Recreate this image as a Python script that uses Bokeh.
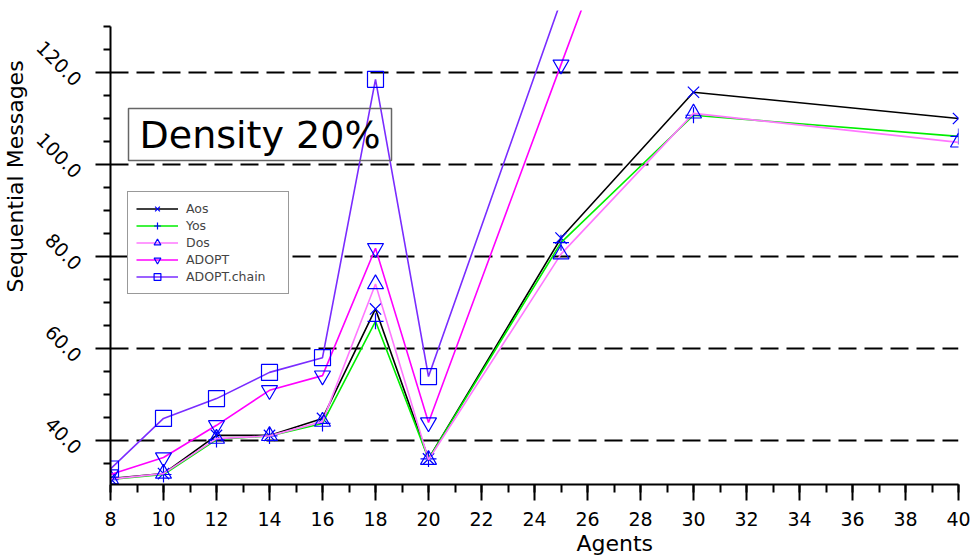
import math
from bokeh.plotting import figure
from bokeh.models import (FixedTicker, PrintfTickFormatter, Label, Legend, LegendItem,
                          Range1d, LinearAxis, Title, CustomLabelingPolicy)
from bokeh.embed import file_html
from bokeh.resources import INLINE

# ---- data ----
agents = [8, 10, 12, 14, 16, 18, 20, 25, 30, 40]
aos = [31.7, 32.8, 41.1, 41.1, 44.8, 68.6, 36.0, 84.0, 115.7, 110.0]
yos = [31.5, 32.6, 40.2, 41.0, 43.7, 65.9, 36.0, 83.0, 110.7, 106.1]
dos = [31.6, 32.8, 40.4, 41.0, 44.1, 74.0, 35.8, 80.5, 111.1, 104.8]
adopt = [32.6, 36.3, 43.3, 50.9, 54.1, 81.8, 43.9, 121.7, 199.0, 255.0]
adopt_chain = [33.8, 44.8, 49.1, 54.8, 58.0, 118.5, 53.9, 135.6, 210.0, 270.0]

series_names = ["Aos", "Yos", "Dos", "ADOPT", "ADOPT.chain"]
series_values = [aos, yos, dos, adopt, adopt_chain]
line_colors = ["#000000", "#00ee00", "#ff77ff", "#ff00ff", "#7a2cff"]
markers = ["x", "cross", "triangle", "inverted_triangle", "square"]

y_major = [40, 60, 80, 100, 120]
y_minor = [35, 45, 50, 55, 65, 70, 75, 85, 90, 95, 105, 110, 115, 125, 130]
x_major = list(range(8, 41, 2))
x_minor = list(range(8, 41, 1))

FONT = "DejaVu Sans"
Y0, Y1 = 30.43, 133.47
LABEL_SHIFT = 2.2  # tick labels sit centred on their gridline

p = figure(width=976, height=559, output_backend="svg", toolbar_location=None,
           x_range=Range1d(8, 40), y_range=Range1d(Y0, Y1),
           min_border_left=110, min_border_right=18, min_border_top=10,
           min_border_bottom=75)
p.outline_line_color = None
p.background_fill_color = "white"
p.border_fill_color = "white"
p.extra_y_ranges = {"ylab": Range1d(Y0 + LABEL_SHIFT, Y1 + LABEL_SHIFT)}

# main axes
for ax in (p.xaxis[0], p.yaxis[0]):
    ax.axis_line_width = 2
    ax.axis_line_color = "black"
    ax.major_tick_line_width = 2
    ax.minor_tick_line_width = 2
    ax.major_tick_in = 0
    ax.minor_tick_in = 0
    ax.major_label_text_font = FONT
    ax.major_label_text_font_size = "19px"
    ax.major_label_text_color = "black"

p.xaxis[0].ticker = FixedTicker(ticks=x_major, minor_ticks=x_minor)
p.xaxis[0].major_tick_out = 16
p.xaxis[0].minor_tick_out = 8
p.xaxis[0].major_label_standoff = 11

p.yaxis[0].ticker = FixedTicker(ticks=y_major, minor_ticks=y_minor)
p.yaxis[0].major_tick_out = 15
p.yaxis[0].minor_tick_out = 7
p.yaxis[0].major_label_standoff = 0
p.yaxis[0].major_label_text_font_size = "1px"
p.yaxis[0].major_label_policy = CustomLabelingPolicy(
    code="for (const i of indices) { indices.unset(i) }\nreturn indices")
p.yaxis[0].bounds = (Y0, 130)

# y tick labels (rotated, centred on the gridlines)
ylab_axis = LinearAxis(y_range_name="ylab",
                       ticker=FixedTicker(ticks=y_major, minor_ticks=[]),
                       formatter=PrintfTickFormatter(format="%.1f"),
                       axis_line_color=None, major_tick_line_color=None,
                       minor_tick_line_color=None, major_tick_out=0, major_tick_in=0,
                       minor_tick_out=0, minor_tick_in=0,
                       major_label_orientation=-math.pi / 4,
                       major_label_standoff=12,
                       major_label_text_font=FONT, major_label_text_font_size="19px",
                       major_label_text_color="black")
p.add_layout(ylab_axis, "left")

# axis titles
p.add_layout(Title(text="Sequential Messages", align="left", offset=192,
                   text_font=FONT, text_font_size="22px", text_font_style="normal",
                   text_color="black", standoff=0), "left")
p.add_layout(Title(text="Agents", align="left", offset=466,
                   text_font=FONT, text_font_size="22px", text_font_style="normal",
                   text_color="black", standoff=0), "below")

p.xgrid.visible = False
p.ygrid[0].ticker = FixedTicker(ticks=y_major)
p.ygrid[0].grid_line_color = "black"
p.ygrid[0].grid_line_width = 2
p.ygrid[0].grid_line_dash = "18 8"

# title box
p.add_layout(Label(x=18, y=324, x_units="screen", y_units="screen",
                   text="Density 20%", text_font=FONT, text_font_size="38px",
                   text_align="left", text_baseline="bottom",
                   border_line_color="#666666", border_line_width=1.5,
                   padding=(11, 4), text_color="black"))

items = []
for name, vals, col, mk in zip(series_names, series_values, line_colors, markers):
    r1 = p.line(agents, vals, line_color=col, line_width=1.6)
    r2 = p.scatter(agents, vals, marker=mk, size=16, line_color="#0000ff",
                   fill_color=None, line_width=1.2)
    items.append(LegendItem(label=name, renderers=[r1, r2]))

legend = Legend(items=items, location=(17, 190))
legend.label_text_font = FONT
legend.label_text_font_size = "12.5px"
legend.glyph_width = 42
legend.glyph_height = 17
legend.label_height = 17
legend.label_width = 94
legend.spacing = 0
legend.padding = 8
legend.label_standoff = 8
legend.border_line_color = "#333333"
legend.border_line_width = 1.2
legend.background_fill_color = "white"
legend.background_fill_alpha = 1.0
p.add_layout(legend)

open("out.html", "w").write(file_html(p, INLINE))
